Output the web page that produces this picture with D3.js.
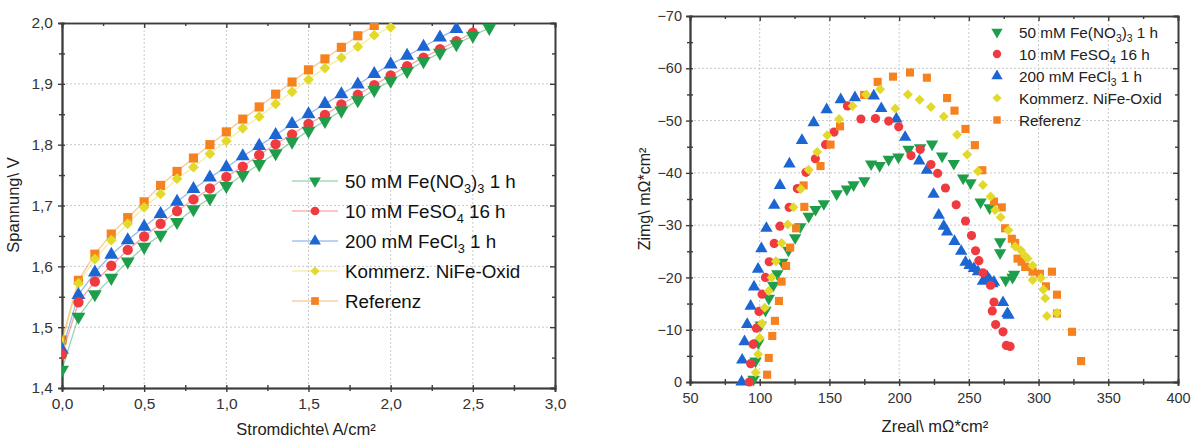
<!DOCTYPE html>
<html>
<head>
<meta charset="utf-8">
<script src="https://cdnjs.cloudflare.com/ajax/libs/d3/7.8.5/d3.min.js"></script>
<style>
body { margin: 0; background: #fff; }
text { font-family: "Liberation Sans", Arial, sans-serif; }
</style>
</head>
<body>
<div id="vis"></div>
<script>
var w = 1193;
var h = 439;

// Legende / Serien
var namen = ["50 mM Fe(NO_3)_3 1 h", "10 mM FeSO_4 16 h", "200 mM FeCl_3 1 h", "Kommerz. NiFe-Oxid", "Referenz"];
var farben = ["#1e9e4b", "#ef3a40", "#1b66d3", "#e3d92b", "#f6821f"];
var symbole = ["down", "circle", "up", "diamond", "square"];

// Polarisationskurven, Stromdichte in A/cm²
var stromdichte = [0, 0.1, 0.2, 0.3, 0.4, 0.5, 0.6, 0.7, 0.8, 0.9, 1.0, 1.1, 1.2, 1.3, 1.4, 1.5, 1.6, 1.7, 1.8, 1.9, 2.0, 2.1, 2.2, 2.3, 2.4, 2.5, 2.6];
var uNitrat = [1.430, 1.517, 1.554, 1.581, 1.608, 1.632, 1.652, 1.673, 1.694, 1.712, 1.732, 1.750, 1.768, 1.786, 1.805, 1.823, 1.839, 1.856, 1.873, 1.890, 1.905, 1.921, 1.937, 1.951, 1.965, 1.979, 1.992];
var uSulfat = [1.455, 1.541, 1.575, 1.601, 1.627, 1.649, 1.670, 1.691, 1.710, 1.728, 1.747, 1.764, 1.783, 1.801, 1.817, 1.834, 1.849, 1.866, 1.882, 1.898, 1.914, 1.929, 1.943, 1.957, 1.970, 1.984];
var uChlorid = [1.463, 1.553, 1.590, 1.619, 1.643, 1.665, 1.686, 1.706, 1.727, 1.746, 1.763, 1.781, 1.798, 1.816, 1.834, 1.850, 1.867, 1.883, 1.899, 1.916, 1.932, 1.946, 1.961, 1.976, 1.990];
var uKommerz = [1.476, 1.572, 1.612, 1.643, 1.670, 1.697, 1.719, 1.744, 1.763, 1.785, 1.806, 1.827, 1.846, 1.867, 1.887, 1.907, 1.926, 1.943, 1.961, 1.980, 1.993];
var uReferenz = [1.479, 1.577, 1.620, 1.653, 1.680, 1.706, 1.733, 1.756, 1.778, 1.800, 1.821, 1.842, 1.862, 1.883, 1.903, 1.923, 1.941, 1.960, 1.979, 1.996];

// Nyquist [Zreal, Zimg] in mOhm*cm²
var zNitrat = [[95.5, -0.5], [97, -4], [99, -7.5], [100.7, -10.9], [104.1, -13.7], [106.5, -16.0], [109.7, -18.5], [112.6, -20.7], [116.2, -22.9], [120.6, -25.2], [125.4, -27.6], [129.1, -29.7], [135.1, -31.7], [140, -33.0], [146, -34.1], [155.2, -36.0], [162.5, -36.9], [167.3, -37.7], [175, -38.5], [179.9, -41.7], [186, -41.4], [192.5, -42.6], [199.5, -43.0], [206.7, -44.5], [215.1, -44.8], [223.6, -45.5], [230.8, -43.2], [239.2, -41.8], [245.9, -39.0], [251.2, -38.1], [258.4, -34.4], [264.9, -33.3], [272.4, -26.8], [272.4, -24.7], [276.4, -19.5], [281.3, -20.0], [282.5, -20.6]];
var zSulfat = [[92.5, 0], [93.5, -3.5], [95.2, -7.2], [97.6, -10.3], [99.5, -13.5], [101.7, -16.8], [104.1, -20.0], [106.8, -23.0], [110.4, -26.5], [114.5, -29.8], [121.1, -33.4], [127, -37.0], [133.2, -40.1], [139.9, -42.7], [147.2, -45.4], [153.3, -47.8], [162.9, -52.8], [172.6, -50.3], [183.0, -50.4], [192.5, -49.9], [199.7, -48.8], [208.5, -43.3], [215.1, -44.5], [222.8, -41.6], [227.6, -39.9], [233.2, -37.1], [240.9, -33.9], [247.6, -30.8], [251.9, -28.0], [254.8, -25.1], [257.2, -23.2], [260.1, -20.9], [265.6, -18.5], [268, -15.3], [266.8, -13.6], [269.2, -11.0], [274.5, -9.6], [276.9, -7.0], [279.6, -6.8]];
var zChlorid = [[87, 0], [87.4, -4.2], [89.1, -7.7], [91.0, -11.0], [93.5, -14.5], [95.9, -18.2], [98.8, -21.6], [101.2, -25.5], [104.8, -29.4], [110.4, -33.8], [114.5, -37.6], [121.3, -41.7], [130.3, -46.2], [138.7, -49.6], [148, -52.1], [158.1, -54.0], [168.3, -54.4], [181.8, -54.7], [187.2, -52.3], [198, -50.3], [204.3, -46.8], [214.4, -42.3], [219.9, -40.5], [224.7, -35.9], [228.4, -31.9], [232, -29.8], [234.4, -28.7], [239.7, -26.9], [244.5, -25.0], [247.6, -22.9], [250.5, -22.3], [253.6, -21.7], [256.5, -21.1], [260.1, -19.3], [263.2, -20.1], [264.9, -19.5], [266.8, -18.8], [268, -19.1], [274.5, -15.2], [277.6, -13.1], [278.4, -12.8]];
var zKommerz = [[97.1, -1.8], [98.8, -5.3], [100, -8.4], [101.7, -11.2], [103.6, -14.2], [106.5, -17.4], [108.5, -20.0], [111.6, -23.1], [115.7, -26.6], [120.1, -30.1], [124.2, -33.4], [129.5, -36.9], [135.1, -40.6], [141.2, -44.0], [148.4, -47.2], [156.9, -50.3], [166.6, -52.8], [176.3, -55.0], [186.4, -56.0], [197.3, -52.3], [206.2, -55.0], [214.7, -54.0], [222.8, -52.6], [232, -50.8], [241.6, -47.3], [248.8, -43.5], [256.5, -40.3], [260.1, -37.7], [265.6, -35.5], [268.8, -32.9], [272.8, -31.5], [278.4, -29.0], [283.2, -25.9], [287.3, -25.2], [290.4, -24.1], [292.1, -23.6], [295.7, -22.3], [295.7, -19.5], [301.7, -19.9], [303.4, -17.7], [304.8, -16.0], [306, -12.6], [313.2, -13.2]];
var zReferenz = [[105.3, -1.4], [106.5, -4.6], [109, -8.8], [110.9, -11.7], [113.8, -15.5], [115.7, -19.2], [118.9, -22.2], [121.8, -25.7], [126.1, -29.4], [132.0, -33.5], [131.5, -37.6], [143.6, -41.3], [150.8, -45.4], [157.6, -48.9], [174.9, -54.9], [184.6, -57.4], [195.6, -58.4], [207.8, -59.2], [219.9, -58.2], [234.4, -54.3], [239.7, -51.9], [247.6, -48.4], [254.3, -45.3], [259.6, -40.5], [268, -34.5], [273.6, -33.4], [276, -29.4], [280.8, -27.4], [283.2, -26.6], [284.9, -23.6], [287.8, -23.0], [290.4, -22.0], [295.7, -21.1], [301, -20.7], [305.3, -18.3], [309.6, -21.1], [313.2, -16.7], [313.2, -13.1], [324, -9.6], [330.5, -4.0]];

// Achsenticks
var lxTicks = [0, 0.5, 1.0, 1.5, 2.0, 2.5, 3.0];
var lxMinor = [0.25, 0.75, 1.25, 1.75, 2.25, 2.75];
var lyTicks = [1.4, 1.5, 1.6, 1.7, 1.8, 1.9, 2.0];
var lyMinor = [1.45, 1.55, 1.65, 1.75, 1.85, 1.95];
var rxTicks = [50, 100, 150, 200, 250, 300, 350, 400];
var rxMinor = [75, 125, 175, 225, 275, 325, 375];
var ryTicks = [0, -10, -20, -30, -40, -50, -60, -70];
var ryMinor = [-5, -15, -25, -35, -45, -55, -65];

var svg = d3.select("#vis")
	.append("svg")
	.attr("width", w)
	.attr("height", h);

var lx = d3.scaleLinear().domain([0, 3]).range([62, 555]);
var ly = d3.scaleLinear().domain([1.4, 2.0]).range([388, 23]);
var rx = d3.scaleLinear().domain([50, 400]).range([690, 1178]);
var ry = d3.scaleLinear().domain([0, -70]).range([382, 16]);

var komma = function(d) { return d3.format(".1f")(d).replace(".", ","); };

// Symbol als path
function symbolPfad(art, groesse) {
	if (art == "circle") return d3.symbol(d3.symbolCircle, groesse)();
	if (art == "square" || art == "diamond") return d3.symbol(d3.symbolSquare, groesse)();
	return d3.symbol(d3.symbolTriangle, groesse)();
}
function symbolDreh(art) {
	if (art == "down") return 180;
	if (art == "diamond") return 45;
	return 0;
}

// Text mit tiefgestellten Ziffern (_3)
function schreibe(sel, name, size) {
	var teile = name.split(/_(\d)/);
	var unten = false;
	teile.forEach(function(t, i) {
		if (t === "") return;
		var sub = (i % 2 == 1);
		var ts = sel.append("tspan").text(t);
		if (sub) {
			ts.style("font-size", (size * 0.68) + "px").attr("dy", size * 0.28);
			unten = true;
		} else {
			ts.style("font-size", size + "px");
			if (unten) { ts.attr("dy", -size * 0.28); unten = false; }
		}
	});
}

function rahmen(x, y, xT, xM, yT, yM, fx, fy, fs, xpad, ypad) {
	var x0 = x.range()[0], x1 = x.range()[1];
	var y0 = y.range()[0], y1 = y.range()[1];
	var g = svg.append("g");

	//Hulplijnen
	g.selectAll(".gx").data(xT.slice(1, -1)).enter().append("line")
		.attr("x1", x).attr("x2", x)
		.attr("y1", y0).attr("y2", y1)
		.attr("stroke", "#c9c9c9")
		.attr("stroke-width", 1)
		.attr("stroke-dasharray", "2,2");
	g.selectAll(".gy").data(yT.slice(1, -1)).enter().append("line")
		.attr("x1", x0).attr("x2", x1)
		.attr("y1", y).attr("y2", y)
		.attr("stroke", "#c9c9c9")
		.attr("stroke-width", 1)
		.attr("stroke-dasharray", "2,2");

	var unten = g.append("g").attr("transform", "translate(0," + y0 + ")");
	unten.call(d3.axisBottom(x).tickValues(xT).tickFormat(fx).tickSize(4).tickPadding(xpad));
	unten.append("g").call(d3.axisBottom(x).tickValues(xM).tickFormat("").tickSize(3));
	unten.append("g").call(d3.axisTop(x).tickValues(xT.concat(xM)).tickFormat("").tickSize(3));

	var links = g.append("g").attr("transform", "translate(" + x0 + ",0)");
	links.call(d3.axisLeft(y).tickValues(yT).tickFormat(fy).tickSize(4).tickPadding(ypad));
	links.append("g").call(d3.axisLeft(y).tickValues(yM).tickFormat("").tickSize(3));
	links.append("g").call(d3.axisRight(y).tickValues(yT.concat(yM)).tickFormat("").tickSize(3));

	g.append("g").attr("transform", "translate(0," + y1 + ")")
		.call(d3.axisBottom(x).tickValues(xT).tickFormat("").tickSize(5))
		.append("g").call(d3.axisBottom(x).tickValues(xM).tickFormat("").tickSize(3));
	g.append("g").attr("transform", "translate(" + x1 + ",0)")
		.call(d3.axisLeft(y).tickValues(yT).tickFormat("").tickSize(5))
		.append("g").call(d3.axisLeft(y).tickValues(yM).tickFormat("").tickSize(3));

	g.selectAll(".domain").attr("stroke", "#3c3c3c").attr("stroke-width", 1.6);
	g.selectAll(".tick line").attr("stroke", "#3c3c3c").attr("stroke-width", 1.4);
	g.selectAll(".tick text")
		.attr("fill", "#333")
		.style("font-size", fs + "px")
		.style("font-family", "'Liberation Sans', Arial, sans-serif");
}

// ---- links: Spannung vs Stromdichte ----
svg.append("clipPath").attr("id", "clipL")
	.append("rect")
	.attr("x", lx.range()[0]).attr("y", ly.range()[1])
	.attr("width", lx.range()[1] - lx.range()[0])
	.attr("height", ly.range()[0] - ly.range()[1]);

rahmen(lx, ly, lxTicks, lxMinor, lyTicks, lyMinor, komma, komma, 15.5, 6, 5);

var uSerien = [uNitrat, uSulfat, uChlorid, uKommerz, uReferenz];
var linie = d3.line()
	.x(function(d) { return lx(d[0]); })
	.y(function(d) { return ly(d[1]); });

var plotL = svg.append("g").attr("clip-path", "url(#clipL)");
// Referenz zuerst, Nitrat zuletzt
[4, 3, 2, 1, 0].forEach(function(k) {
	var pts = uSerien[k].map(function(u, i) { return [stromdichte[i], u]; });
	plotL.append("path")
		.datum(pts)
		.attr("d", linie)
		.attr("fill", "none")
		.attr("stroke", farben[k])
		.attr("stroke-opacity", 0.45)
		.attr("stroke-width", 1.3);
	plotL.selectAll(".m" + k)
		.data(pts)
		.enter()
		.append("path")
		.attr("d", symbolPfad(symbole[k], k == 3 ? 58 : 84))
		.attr("transform", function(d) { return "translate(" + lx(d[0]) + "," + ly(d[1]) + ") rotate(" + symbolDreh(symbole[k]) + ")"; })
		.attr("fill", farben[k]);
});

// Legende links
namen.forEach(function(n, k) {
	var ly0 = 181 + k * 30;
	svg.append("line")
		.attr("x1", 292).attr("x2", 338)
		.attr("y1", ly0).attr("y2", ly0)
		.attr("stroke", farben[k])
		.attr("stroke-opacity", 0.4)
		.attr("stroke-width", 1.3);
	svg.append("path")
		.attr("d", symbolPfad(symbole[k], k == 3 ? 42 : 60))
		.attr("transform", "translate(315," + ly0 + ") rotate(" + symbolDreh(symbole[k]) + ")")
		.attr("fill", farben[k]);
	var t = svg.append("text")
		.attr("x", 345)
		.attr("y", ly0 + 6.5)
		.attr("fill", "#111");
	schreibe(t, n, 18.8);
});

svg.append("text")
	.text("Spannung\\ V")
	.attr("transform", "translate(19,205) rotate(-90)")
	.attr("text-anchor", "middle")
	.attr("fill", "#222")
	.style("font-size", "16.5px");
svg.append("text")
	.text("Stromdichte\\ A/cm²")
	.attr("x", 306)
	.attr("y", 435)
	.attr("text-anchor", "middle")
	.attr("fill", "#222")
	.style("font-size", "16.5px");

// ---- rechts: Nyquist ----
rahmen(rx, ry, rxTicks, rxMinor, ryTicks, ryMinor, d3.format("d"), d3.format("d"), 14.5, 7, 4);

var zSerien = [zNitrat, zSulfat, zChlorid, zKommerz, zReferenz];
[2, 0, 1, 4, 3].forEach(function(k) {
	svg.append("g").selectAll("path")
		.data(zSerien[k])
		.enter()
		.append("path")
		.attr("d", symbolPfad(symbole[k], k == 3 ? 50 : 66))
		.attr("transform", function(d) { return "translate(" + rx(d[0]) + "," + ry(d[1]) + ") rotate(" + symbolDreh(symbole[k]) + ")"; })
		.attr("fill", farben[k]);
});

// Legende rechts
namen.forEach(function(n, k) {
	var ry0 = 32 + k * 22;
	svg.append("path")
		.attr("d", symbolPfad(symbole[k], k == 3 ? 42 : 55))
		.attr("transform", "translate(997," + ry0 + ") rotate(" + symbolDreh(symbole[k]) + ")")
		.attr("fill", farben[k]);
	var t = svg.append("text")
		.attr("x", 1019)
		.attr("y", ry0 + 5.5)
		.attr("fill", "#222");
	schreibe(t, n, 15.3);
});

svg.append("text")
	.text("Zimg\\ mΩ*cm²")
	.attr("transform", "translate(650,199) rotate(-90)")
	.attr("text-anchor", "middle")
	.attr("fill", "#222")
	.style("font-size", "16px");
svg.append("text")
	.text("Zreal\\ mΩ*cm²")
	.attr("x", 935)
	.attr("y", 432)
	.attr("text-anchor", "middle")
	.attr("fill", "#222")
	.style("font-size", "16.5px");
</script>
</body>
</html>
